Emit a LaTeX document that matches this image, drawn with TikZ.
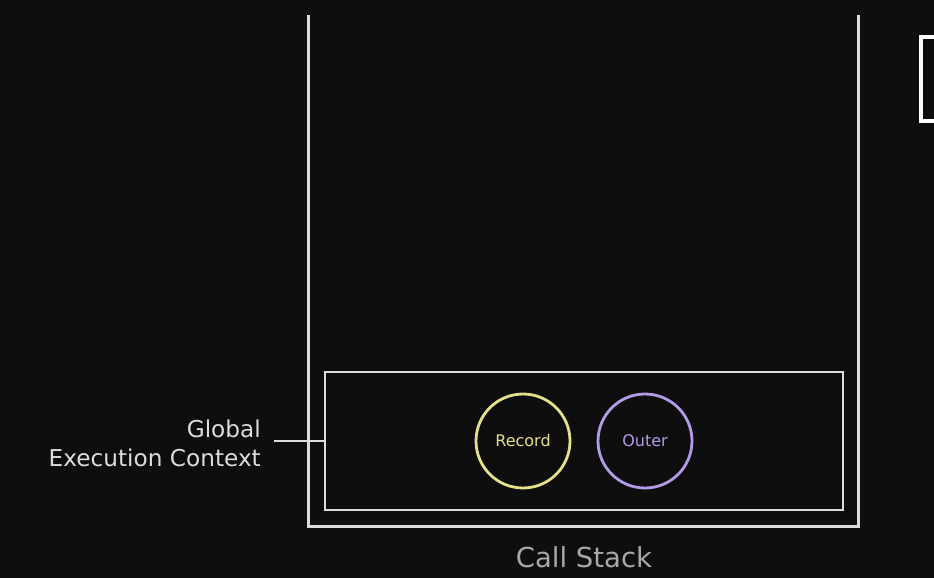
\documentclass[tikz,border=0pt]{standalone}
\usepackage{fontspec}
\setmainfont{DejaVu Sans}
\usepackage{xcolor}

\definecolor{board}{HTML}{0E0E0E}
\definecolor{chalk}{HTML}{DCDCDC}
\definecolor{recordc}{HTML}{E4E08C}
\definecolor{outerc}{HTML}{B49BE8}
\definecolor{greyc}{HTML}{A8A8A8}

\begin{document}
\begin{tikzpicture}[x=1pt,y=-1pt]
            \fill[board] (0,0) rectangle (934,578);
            \useasboundingbox (0,0) rectangle (934,578);
            % the stack
            \draw[chalk,line width=3pt] (308,15) -- (308,526) -- (858,526) -- (858,15);
            \node (stack) at (584,557) [text=greyc,font=\fontsize{27.5}{30}\selectfont] {Call Stack};
            % global execution context
            \node (gec) at (584,441) [draw=chalk,line width=2.5pt,minimum width=518pt,minimum height=138pt] {};
            \node (rec) at (523,441) [circle,draw=recordc,line width=2.8pt,minimum size=94pt,text=recordc,font=\fontsize{16}{18}\selectfont] {Record};
            \node (out) at (645,441) [circle,draw=outerc,line width=2.8pt,minimum size=94pt,text=outerc,font=\fontsize{16}{18}\selectfont] {Outer};
            \node (lbl) at (274,443) [anchor=east,align=right,inner xsep=13pt,text=chalk,font=\fontsize{23.2}{29}\selectfont] {Global\\Execution Context};
            \draw[chalk,line width=2.5pt] (lbl.east |- gec.west) -- (gec.west);
            % box at the edge
            \draw[white,line width=4pt] (940,37) -- (921,37) -- (921,121) -- (940,121);
        \end{tikzpicture}
\end{document}
